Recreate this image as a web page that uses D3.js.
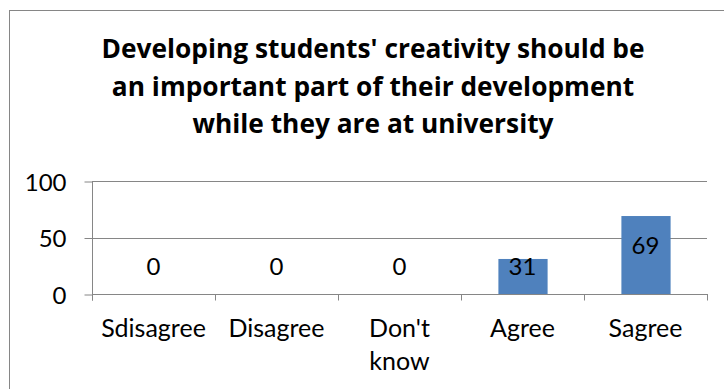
<!DOCTYPE html>
<html>
<head>
<meta charset="utf-8">
<script src="https://cdn.jsdelivr.net/npm/d3@7"></script>
<style>
  html, body { margin: 0; padding: 0; background: #fff; }
  svg { display: block; }
</style>
</head>
<body>
<div id="chart"></div>
<script>
// Survey responses (percent)
const categories = ["Sdisagree", "Disagree", "Don't know", "Agree", "Sagree"];
const values = [0, 0, 0, 31, 69];
const yTicks = [0, 50, 100];
const titleLines = [
  "Developing students' creativity should be",
  "an important part of their development",
  "while they are at university"
];

const W = 724, H = 389;
const labelFont = "Lato, 'Open Sans', sans-serif";
const titleFont = "'Open Sans', Lato, sans-serif";
const svg = d3.select("#chart").append("svg").attr("width", W).attr("height", H);

// chart frame
svg.append("rect")
  .attr("x", 9.5).attr("y", 10.5)
  .attr("width", W + 20).attr("height", H + 20)
  .attr("fill", "#fff").attr("stroke", "#868686").attr("stroke-width", 1);

const plot = { left: 92, right: 707, top: 181, bottom: 294 };

const x = d3.scaleBand().domain(categories).range([plot.left, plot.right]).paddingInner(0.6).paddingOuter(0.3);
const xb = d3.scaleBand().domain(categories).range([plot.left, plot.right]);
const y = d3.scaleLinear().domain([0, 100]).range([plot.bottom, plot.top]);

// title
const title = svg.append("text")
  .attr("text-anchor", "middle")
  .attr("font-family", titleFont)
  .attr("font-weight", "bold")
  .attr("font-size", 26.3)
  .attr("fill", "#000");
titleLines.forEach((t, i) => {
  title.append("tspan").attr("x", 373).attr("y", 58 + i * 37.5).text(t);
});

// gridlines
svg.append("g").selectAll("line").data(yTicks.filter(d => d > 0)).join("line")
  .attr("x1", plot.left).attr("x2", plot.right)
  .attr("y1", d => Math.round(y(d)) + 0.5).attr("y2", d => Math.round(y(d)) + 0.5)
  .attr("stroke", "#868686").attr("stroke-width", 1);

// y axis
const yAxis = svg.append("g")
  .attr("transform", `translate(${plot.left + 0.5},0.5)`)
  .call(d3.axisLeft(y).tickValues(yTicks).tickSize(8).tickPadding(18));
yAxis.select(".domain").attr("stroke", "#868686").attr("d", `M0,${plot.top - 0.5}V${plot.bottom + 6}`);
yAxis.selectAll(".tick line").attr("stroke", "#868686");
yAxis.selectAll(".tick text")
  .attr("font-family", labelFont).attr("font-size", 24).attr("fill", "#000")
  .attr("dy", "0.36em");

// bars
svg.append("g").selectAll("rect").data(values).join("rect")
  .attr("x", (d, i) => x(categories[i]) + 0.5)
  .attr("width", x.bandwidth())
  .attr("y", d => y(d))
  .attr("height", d => plot.bottom - y(d))
  .attr("fill", "#4F81BD");

// x axis
const xg = svg.append("g").attr("transform", `translate(0,${plot.bottom + 0.5})`);
xg.append("line").attr("x1", plot.left).attr("x2", plot.right + 1)
  .attr("stroke", "#868686");
const bounds = categories.map(c => xb(c)).concat([plot.right]);
xg.selectAll("line.tk").data(bounds).join("line").attr("class", "tk")
  .attr("x1", d => Math.round(d) + 0.5).attr("x2", d => Math.round(d) + 0.5)
  .attr("y1", 0).attr("y2", 6).attr("stroke", "#868686");

// category labels
const lab = svg.append("g").selectAll("text").data(categories).join("text")
  .attr("text-anchor", "middle")
  .attr("font-family", labelFont).attr("font-size", 25).attr("fill", "#000");
lab.each(function (c) {
  const cx = xb(c) + xb.bandwidth() / 2;
  const parts = c === "Don't know" ? ["Don't", "know"] : [c];
  parts.forEach((p, i) => {
    d3.select(this).append("tspan").attr("x", cx).attr("y", 337 + i * 33).text(p);
  });
});

// value labels
svg.append("g").selectAll("text").data(values).join("text")
  .attr("text-anchor", "middle")
  .attr("font-family", labelFont).attr("font-size", 24).attr("fill", "#000")
  .attr("x", (d, i) => xb(categories[i]) + xb.bandwidth() / 2)
  .attr("y", d => Math.min(y(d) + 38, 275))
  .text(d => d);
</script>
</body>
</html>
